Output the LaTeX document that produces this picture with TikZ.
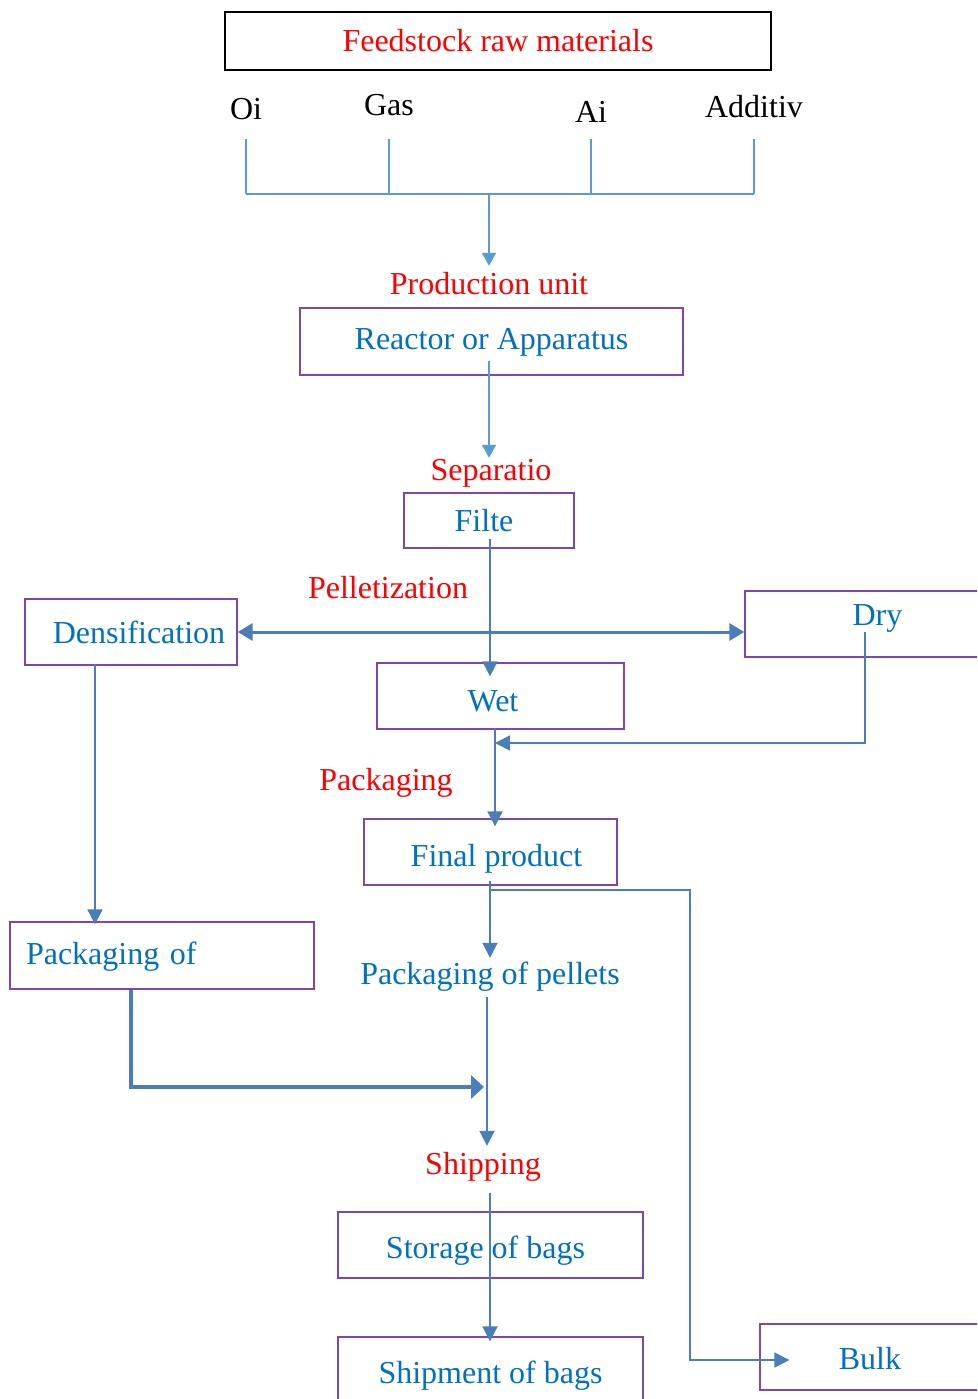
\documentclass[tikz,border=0pt]{standalone}
\usepackage{fontspec}
\setmainfont{Liberation Serif}
\usetikzlibrary{arrows.meta}

\definecolor{feedblue}{RGB}{91,155,213}
\definecolor{flowblue}{RGB}{74,126,187}
\definecolor{boxpurple}{RGB}{128,70,175}
\definecolor{textblue}{RGB}{0,112,192}

\tikzset{
  every node/.style={font=\fontsize{32}{38}\selectfont},
  stagebox/.style={draw=boxpurple, line width=1.3pt, text=textblue, inner sep=0pt, text height=28pt, text depth=0pt},
  stagelabel/.style={text=red, inner sep=6pt, text height=22pt, text depth=0pt},
  feedline/.style={draw=feedblue, line width=1.8pt},
  flowline/.style={draw=flowblue, line width=1.8pt, -{Triangle[length=15pt,width=15pt]}},
  thickflow/.style={draw=flowblue, line width=3.5pt, -{Triangle[length=13pt,width=23pt]}},
  bothflow/.style={draw=flowblue, line width=3pt, {Triangle[length=15pt,width=17pt]}-{Triangle[length=15pt,width=17pt]}}
}

\begin{document}
\begin{tikzpicture}[x=1pt,y=-1pt]
\useasboundingbox (0,0) rectangle (977,1399);
\clip (0,0) rectangle (977,1399);

% raw materials
\node[draw=black, line width=1.3pt, text=red, minimum width=546pt, minimum height=58pt] (feed) at (498,41) {Feedstock raw materials};
\node (oi) at (246,109) {Oi};
\node (gas) at (389,105) {Gas};
\node (ai) at (591,112) {Ai};
\node (add) at (754,107) {Additiv};
\coordinate (bustop) at (489,139);
\coordinate (bus) at (489,194);
\draw[feedline] (oi |- bustop) -- (oi |- bus);
\draw[feedline] (gas |- bustop) -- (gas |- bus);
\draw[feedline] (ai |- bustop) -- (ai |- bus);
\draw[feedline] (add |- bustop) -- (add |- bus);
\draw[feedline] (oi |- bus) -- (add |- bus);

% production and separation
\node[stagelabel] (prod) at (489,283) {Production unit};
\node[stagebox, minimum width=383pt, minimum height=67pt, text height=22pt, text depth=7pt] (reactor) at (491.5,341.5) {Reactor or Apparatus};
\node[stagelabel] (sep) at (491,469) {Separatio};
\node[stagebox, minimum width=170pt, minimum height=55pt, text height=22pt] (filte) at (489,520.5) {\hspace*{-10pt}Filte};
\draw[feedline, -{Triangle[length=13pt,width=14pt]}] (bus) -- (prod.north);
\draw[feedline, -{Triangle[length=13pt,width=14pt]}] ([yshift=15pt]reactor.south -| bus) -- ([yshift=-6pt]sep.north -| bus);

% pelletization
\node[stagelabel] (pellet) at (388,587) {Pelletization};
\node[stagebox, minimum width=212pt, minimum height=66pt, text height=22pt] (dens) at (131,632) {\hspace*{16pt}Densification};
\node[stagebox, minimum width=265pt, minimum height=66pt, text height=15pt, text depth=13pt] (dry) at (877.5,624) {Dry};
\node[stagebox, minimum width=247pt, minimum height=66pt, text height=30pt] (wet) at (500.5,696) {\hspace*{-15pt}Wet};
\draw[flowline] ([xshift=1pt,yshift=10pt]filte.south) -- ([xshift=1pt,yshift=-14pt]filte.south |- wet.north);
\draw[bothflow] (dens.east) -- (dens.east -| dry.west);

% packaging
\node[stagelabel] (pack) at (386,779) {Packaging};
\node[stagebox, minimum width=253pt, minimum height=66pt] (final) at (490.5,852) {\hspace*{12pt}Final product};
\coordinate (merge) at (495,743);
\draw[flowline] ([yshift=2pt]wet.south -| merge) -- ([yshift=-8pt]final.north -| merge);
\draw[flowline] ([xshift=-12.5pt,yshift=-8pt]dry.center) |- (merge);

% products
\node[text=textblue, inner sep=0pt, text height=26pt, text depth=0pt] (pellets) at (490,971) {Packaging of pellets};
\node[stagebox, text width=272pt, align=left, inner xsep=16pt, minimum height=67pt, text height=28pt, text depth=11pt] (packof) at (162,955.5) {Packaging of};
\coordinate (bulkturn) at (690,890);
\coordinate (join) at (487,1087);
\draw[flowline] ([xshift=-0.5pt,yshift=5pt]final.south) -- ([xshift=-0.5pt]final.south |- pellets.north);
\draw[flowline] ([xshift=-36pt,yshift=2pt]dens.south) -- ([xshift=-36pt,yshift=-3pt]dens.south |- packof.north);
\draw[thickflow] ([xshift=-31pt]packof.south) |- ([xshift=-3pt]join);

% shipping
\node[stagelabel] (ship) at (483,1163) {Shipping};
\node[stagebox, minimum width=305pt, minimum height=66pt, text height=26pt] (storage) at (490.5,1245) {\hspace*{-10pt}Storage of bags};
\node[stagebox, minimum width=305pt, minimum height=66pt, text height=26pt] (shipment) at (490.5,1370) {Shipment of bags};
\node[stagebox, minimum width=220pt, minimum height=66pt, text height=24pt] (bulk) at (870,1357) {Bulk};
\draw[flowline] ([yshift=-13pt]pellets.south -| join) -- (ship.north -| join);
\draw[flowline] ([xshift=7pt,yshift=-13pt]ship.south) -- ([xshift=-0.5pt,yshift=-5pt]shipment.north);
\draw[flowline] (final.south |- bulkturn) -- (bulkturn) |- ([xshift=30pt,yshift=-3pt]bulk.west);
\end{tikzpicture}
\end{document}
